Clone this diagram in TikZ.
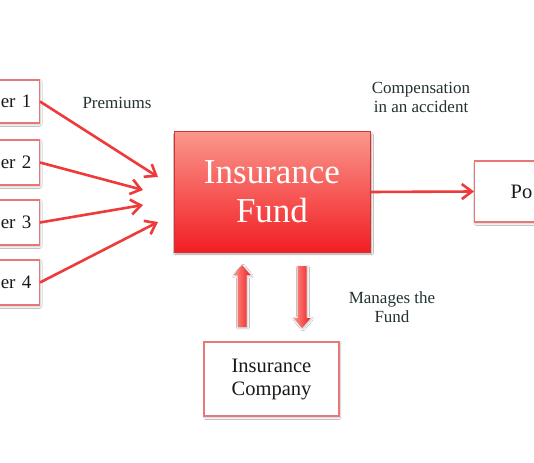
\documentclass[tikz,border=0pt]{standalone}
\usepackage{fontspec}
\setmainfont{Liberation Serif}
\usetikzlibrary{arrows.meta,shadows.blur}
\definecolor{arr}{RGB}{238,58,58}
\definecolor{boxline}{RGB}{232,120,120}
\definecolor{lbl}{RGB}{35,50,50}
\definecolor{fundtop}{RGB}{250,150,140}
\definecolor{fundbot}{RGB}{242,30,35}
\definecolor{fundline}{RGB}{215,50,50}
\begin{document}
\begin{tikzpicture}[x=1pt,y=-1pt,
 wbox/.style={draw=boxline, line width=1.2pt, fill=white,
   blur shadow={shadow xshift=1pt,shadow yshift=-1.5pt,shadow blur steps=4,shadow opacity=25}},
 lbox/.style={wbox, btext, font=\fontsize{19}{22}\selectfont, minimum height=45pt, text width=58pt, align=right, inner xsep=8pt, anchor=east},
 con/.style={draw=arr, line width=2.6pt, -{Straight Barb[length=10pt,width=15pt]}},
 lab/.style={font=\fontsize{17}{19}\selectfont, text=lbl, align=center},
 btext/.style={font=\fontsize{20.5}{23}\selectfont, text=black!90},
 fundbox/.style={draw=fundline, line width=1pt, top color=fundtop, bottom color=fundbot,
   blur shadow={shadow xshift=1.5pt,shadow yshift=-2pt,shadow blur steps=5,shadow opacity=35}},
 barrow/.style={left color=fundtop, right color=fundbot, draw=none,
   blur shadow={shadow xshift=1pt,shadow yshift=-1pt,shadow blur steps=4,shadow opacity=25}}]
\clip (0,0) rectangle (534,462);
\fill[white] (0,0) rectangle (534,462);
% left boxes
\node[lbox, minimum height=43pt] (c1) at (40,101.5) {er 1};
\node[lbox] (c2) at (40,162.5) {er 2};
\node[lbox] (c3) at (40,222.5) {er 3};
\node[lbox] (c4) at (40,282.5) {er 4};
% fund
\node[fundbox, minimum width=196pt, minimum height=120pt, text=white, align=center,
  font=\fontsize{35}{39}\selectfont] (fund) at (272,192) {Insurance\\Fund};
% right box
\node[wbox, btext, minimum height=61pt, text width=60pt, align=left, inner xsep=36pt, anchor=west] (pol) at (474,191.5) {Po};
% company
\node[wbox, btext, minimum width=135pt, minimum height=74pt, align=center] (comp) at (271.5,379) {Insurance\\Company};
% arrow targets
\coordinate (t1) at (158,177);
\coordinate (t2) at (143,190);
\coordinate (t3) at (143,205);
\coordinate (t4) at (158,222);
\draw[con] (c1.east) -- (t1);
\draw[con] (c2.east) -- (t2);
\draw[con] (c3.east) -- (t3);
\draw[con] (c4.east) -- (t4);
\draw[con] (fund.east) -- (pol.west);
% block arrows
\path[barrow] (237.5,327) -- (237.5,275) -- (233.5,275) -- (242,265) -- (250.5,275) -- (246.5,275) -- (246.5,327) -- cycle;
\path[barrow] (297.5,266) -- (297.5,318) -- (293.5,318) -- (302,328) -- (310.5,318) -- (306.5,318) -- (306.5,266) -- cycle;
% labels
\node[lab] (lp) at (117,103) {Premiums};
\node[lab] (lc) at (421,97.5) {Compensation\\in an accident};
\node[lab] (lm) at (392,307.5) {Manages the\\Fund};
\end{tikzpicture}
\end{document}
